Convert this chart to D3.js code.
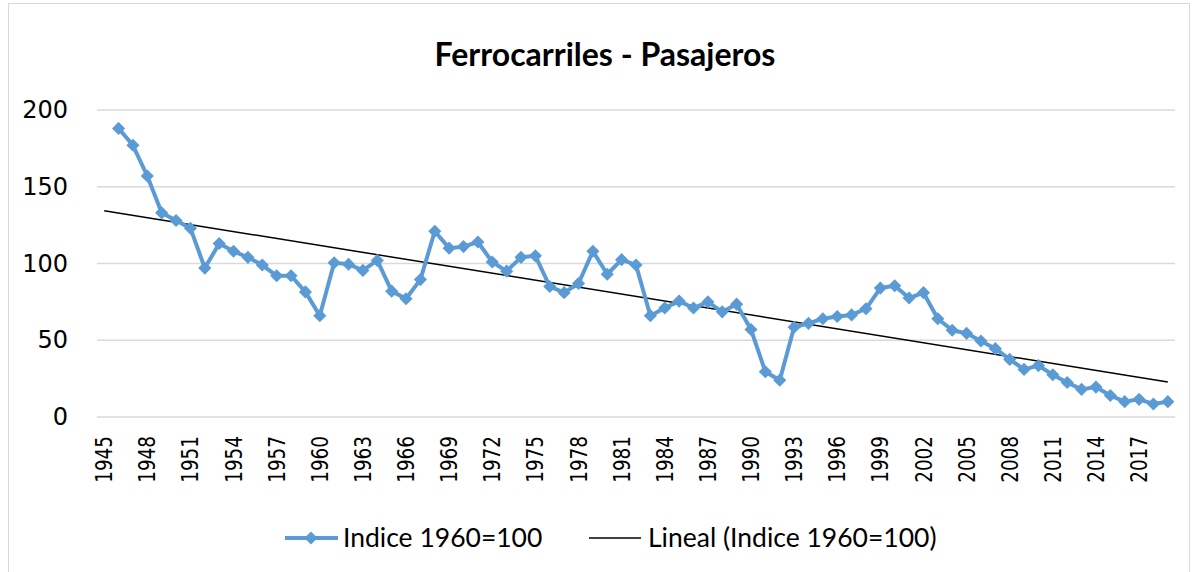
<!DOCTYPE html>
<html>
<head>
<meta charset="utf-8">
<script src="https://cdn.jsdelivr.net/npm/d3@7"></script>
<style>
body { margin: 0; background: #fff; }
</style>
</head>
<body>
<script>
// categories on the axis (1945 has no value)
var years = d3.range(1945, 2020);
var valueYears = d3.range(1946, 2020);
var values = [188, 177, 157, 133, 128, 123, 97, 113, 108, 104, 99, 92, 92,
  81.5, 66, 100.5, 99.5, 95.5, 102, 82, 77, 89.5, 121, 110, 111, 114,
  101, 95, 104, 105, 85, 81, 87, 108, 93, 102.5, 99, 66, 71,
  75.5, 71, 75, 68.5, 73.5, 57, 29.5, 24, 58.5, 61, 64, 65.5, 66.5,
  70.5, 84, 85.5, 77.5, 81, 64, 56.5, 54.5, 49.5, 44.5, 37.5, 31, 33.5, 27.5,
  22.5, 18, 19.5, 14, 10, 11.5, 8.5, 10];
var yTicks = [0, 50, 100, 150, 200];
var title = "Ferrocarriles - Pasajeros";
var seriesName = "Indice 1960=100";
var trendName = "Lineal (Indice 1960=100)";

var width = 1193, height = 572;
var blue = "#5b9bd5";

var svg = d3.select("body").append("svg")
    .attr("width", width)
    .attr("height", height);

// chart border
svg.append("rect")
    .attr("x", 8.5)
    .attr("y", 3.5)
    .attr("width", 1181)
    .attr("height", 600)
    .attr("fill", "none")
    .attr("stroke", "#d9d9d9")
    .attr("stroke-width", 1);

var x = d3.scaleBand()
    .domain(years)
    .range([97, 1175]);

var y = d3.scaleLinear()
    .domain([0, 200])
    .range([417, 110]);

// gridlines
svg.append("g")
    .selectAll("line")
    .data(yTicks)
    .enter().append("line")
    .attr("x1", x.range()[0])
    .attr("x2", x.range()[1])
    .attr("y1", function(d) { return y(d); })
    .attr("y2", function(d) { return y(d); })
    .attr("stroke", "#d9d9d9")
    .attr("stroke-width", 1.5);

// y axis labels
var yAxis = svg.append("g")
    .attr("transform", "translate(68,0)")
    .call(d3.axisLeft(y).tickValues(yTicks).tickSize(0).tickPadding(0));
yAxis.select(".domain").remove();
yAxis.selectAll("text")
    .attr("font-family", "DejaVu Sans")
    .attr("font-size", 24)
    .attr("fill", "#000");

// x axis labels, every 3 years, rotated (a bit condensed)
var xAxis = svg.append("g")
    .attr("transform", "translate(0,436)")
    .call(d3.axisBottom(x)
      .tickValues(years.filter(function(d) { return (d - 1945) % 3 === 0; }))
      .tickSize(0).tickPadding(0));
xAxis.select(".domain").remove();
xAxis.selectAll("text")
    .attr("font-family", "DejaVu Sans")
    .attr("font-size", 23)
    .attr("fill", "#000")
    .attr("text-anchor", "end")
    .attr("dy", "0.35em")
    .attr("transform", "rotate(-90) scale(0.8,1)")
    .attr("x", 0)
    .attr("y", 0);

var cx = function(d) { return x(d) + x.bandwidth() / 2; };

// linear trend fitted on the category positions
var idx = valueYears.map(function(d) { return years.indexOf(d) + 1; });
var mx = d3.mean(idx), my = d3.mean(values);
var sxy = d3.sum(idx, function(d, i) { return (d - mx) * (values[i] - my); });
var sxx = d3.sum(idx, function(d) { return (d - mx) * (d - mx); });
var slope = sxy / sxx, icpt = my - slope * mx;
var trendYears = [years[0], years[years.length - 1]];

svg.append("line")
    .attr("x1", cx(trendYears[0]))
    .attr("y1", y(icpt + slope * 1))
    .attr("x2", cx(trendYears[1]))
    .attr("y2", y(icpt + slope * years.length))
    .attr("stroke", "#000")
    .attr("stroke-width", 1.5);

// data line
var line = d3.line()
    .x(function(d, i) { return cx(valueYears[i]); })
    .y(function(d) { return y(d); });

svg.append("path")
    .datum(values)
    .attr("d", line)
    .attr("fill", "none")
    .attr("stroke", blue)
    .attr("stroke-width", 4)
    .attr("stroke-linejoin", "round");

var diamond = d3.symbol().type(d3.symbolDiamond2).size(110);

svg.append("g")
    .selectAll("path")
    .data(values)
    .enter().append("path")
    .attr("d", diamond)
    .attr("transform", function(d, i) { return "translate(" + cx(valueYears[i]) + "," + y(d) + ")"; })
    .attr("fill", blue);

// title
svg.append("text")
    .attr("x", 605)
    .attr("y", 66)
    .attr("text-anchor", "middle")
    .attr("font-family", "Lato")
    .attr("font-weight", "bold")
    .attr("font-size", 32)
    .attr("fill", "#000")
    .text(title);

// legend
var legend = svg.append("g");
legend.append("line")
    .attr("x1", 285).attr("x2", 338)
    .attr("y1", 538).attr("y2", 538)
    .attr("stroke", blue)
    .attr("stroke-width", 4);
legend.append("path")
    .attr("d", diamond)
    .attr("transform", "translate(311,538)")
    .attr("fill", blue);
legend.append("text")
    .attr("x", 343)
    .attr("y", 547)
    .attr("font-family", "Lato")
    .attr("font-size", 26.5)
    .attr("fill", "#000")
    .text(seriesName);
legend.append("line")
    .attr("x1", 589).attr("x2", 641)
    .attr("y1", 538).attr("y2", 538)
    .attr("stroke", "#000")
    .attr("stroke-width", 1.5);
legend.append("text")
    .attr("x", 648)
    .attr("y", 547)
    .attr("font-family", "Lato")
    .attr("font-size", 26.5)
    .attr("fill", "#000")
    .text(trendName);
</script>
</body>
</html>
